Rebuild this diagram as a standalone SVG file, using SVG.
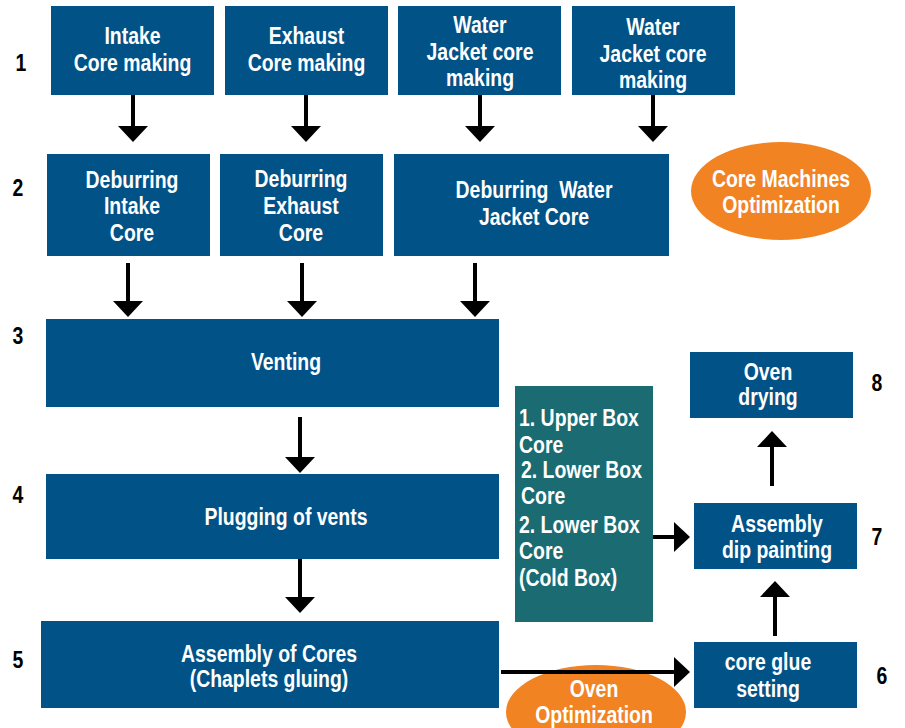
<svg xmlns="http://www.w3.org/2000/svg" width="905" height="728" viewBox="0 0 905 728">
<style>
.box{fill:#015287}
.teal{fill:#1b6b73}
.oval{fill:#f28322}
text{font-family:'Liberation Sans',Arial,sans-serif;font-weight:bold;font-size:24px}
.w{fill:#ffffff;text-anchor:middle}
.wl{fill:#ffffff}
.n{fill:#000000;text-anchor:middle}
.conn{stroke:#000;stroke-width:4;fill:none;marker-end:url(#ah)}
</style>
<defs>
<marker id="ah" viewBox="0 0 16 30" refX="0" refY="15" markerWidth="16" markerHeight="30" markerUnits="userSpaceOnUse" orient="auto">
<path d="M0,0 L16,15 L0,30 Z" fill="#000"/>
</marker>
</defs>
<rect width="905" height="728" fill="#fff"/>
<g id="labels">
<g transform="translate(21 0) scale(0.81 1)"><text class="n" x="0" y="71">1</text></g>
<g transform="translate(18 0) scale(0.81 1)"><text class="n" x="0" y="196">2</text></g>
<g transform="translate(18 0) scale(0.81 1)"><text class="n" x="0" y="344">3</text></g>
<g transform="translate(18 0) scale(0.81 1)"><text class="n" x="0" y="503">4</text></g>
<g transform="translate(18 0) scale(0.81 1)"><text class="n" x="0" y="668">5</text></g>
<g transform="translate(882 0) scale(0.81 1)"><text class="n" x="0" y="684">6</text></g>
<g transform="translate(877 0) scale(0.81 1)"><text class="n" x="0" y="545">7</text></g>
<g transform="translate(877 0) scale(0.81 1)"><text class="n" x="0" y="391">8</text></g>
</g>
<g id="n-intake"><rect class="box" x="51" y="6" width="163" height="89"/><g transform="translate(132.5 0) scale(0.81 1)"><text class="w" x="0" y="44">Intake</text><text class="w" x="0" y="71">Core making</text></g></g>
<g id="n-exhaust"><rect class="box" x="225" y="6" width="163" height="89"/><g transform="translate(306.5 0) scale(0.81 1)"><text class="w" x="0" y="44">Exhaust</text><text class="w" x="0" y="71">Core making</text></g></g>
<g id="n-water1"><rect class="box" x="398" y="6" width="163" height="89"/><g transform="translate(480 0) scale(0.81 1)"><text class="w" x="0" y="33">Water</text><text class="w" x="0" y="60">Jacket core</text><text class="w" x="0" y="86">making</text></g></g>
<g id="n-water2"><rect class="box" x="572" y="6" width="163" height="89"/><g transform="translate(653 0) scale(0.81 1)"><text class="w" x="0" y="35">Water</text><text class="w" x="0" y="62">Jacket core</text><text class="w" x="0" y="88">making</text></g></g>
<g id="n-deb-intake"><rect class="box" x="47" y="154" width="163" height="102"/><g transform="translate(132 0) scale(0.81 1)"><text class="w" x="0" y="188">Deburring</text><text class="w" x="0" y="214">Intake</text><text class="w" x="0" y="241">Core</text></g></g>
<g id="n-deb-exhaust"><rect class="box" x="220" y="154" width="163" height="102"/><g transform="translate(301 0) scale(0.81 1)"><text class="w" x="0" y="187">Deburring</text><text class="w" x="0" y="214">Exhaust</text><text class="w" x="0" y="241">Core</text></g></g>
<g id="n-deb-water"><rect class="box" x="394" y="154" width="275" height="102"/><g transform="translate(534 0) scale(0.81 1)"><text class="w" x="0" y="198" xml:space="preserve">Deburring  Water</text><text class="w" x="0" y="225">Jacket Core</text></g></g>
<g id="n-core-opt"><ellipse class="oval" cx="781" cy="191" rx="90" ry="49"/><g transform="translate(781 0) scale(0.81 1)"><text class="w" x="0" y="187">Core Machines</text><text class="w" x="0" y="213">Optimization</text></g></g>
<g id="n-venting"><rect class="box" x="46" y="319" width="453" height="88"/><g transform="translate(286 0) scale(0.81 1)"><text class="w" x="0" y="370">Venting</text></g></g>
<g id="n-plugging"><rect class="box" x="46" y="474" width="453" height="85"/><g transform="translate(286 0) scale(0.81 1)"><text class="w" x="0" y="525">Plugging of vents</text></g></g>
<g id="n-assembly"><rect class="box" x="41" y="621" width="458" height="87"/><g transform="translate(269 0) scale(0.81 1)"><text class="w" x="0" y="662">Assembly of Cores</text><text class="w" x="0" y="687">(Chaplets gluing)</text></g></g>
<g id="n-boxcores"><rect class="teal" x="515" y="386" width="138" height="236"/>
<g transform="translate(519 0) scale(0.81 1)"><text class="wl" x="0" y="426">1. Upper Box</text><text class="wl" x="0" y="453">Core</text>
<text class="wl" x="2.5" y="478">2. Lower Box</text><text class="wl" x="2.5" y="504">Core</text>
<text class="wl" x="0" y="533">2. Lower Box</text><text class="wl" x="0" y="559">Core</text>
<text class="wl" x="0" y="586">(Cold Box)</text></g></g>
<g id="n-oven-drying"><rect class="box" x="690" y="352" width="163" height="66"/><g transform="translate(768 0) scale(0.81 1)"><text class="w" x="0" y="380">Oven</text><text class="w" x="0" y="405">drying</text></g></g>
<g id="n-dip"><rect class="box" x="694" y="503" width="163" height="66"/><g transform="translate(777 0) scale(0.81 1)"><text class="w" x="0" y="532">Assembly</text><text class="w" x="0" y="558">dip painting</text></g></g>
<g id="n-glue"><rect class="box" x="694" y="642" width="163" height="66"/><g transform="translate(768 0) scale(0.81 1)"><text class="w" x="0" y="670">core glue</text><text class="w" x="0" y="697">setting</text></g></g>
<g id="n-oven-opt"><ellipse class="oval" cx="596" cy="712" rx="90" ry="47"/><g transform="translate(594 0) scale(0.81 1)"><text class="w" x="0" y="697">Oven</text><text class="w" x="0" y="723">Optimization</text></g></g>
<g id="connectors">
<path class="conn" d="M133,95 V126"/>
<path class="conn" d="M306,95 V126"/>
<path class="conn" d="M480,95 V126"/>
<path class="conn" d="M653,95 V126"/>
<path class="conn" d="M128,263 V301"/>
<path class="conn" d="M302,263 V301"/>
<path class="conn" d="M475,263 V301"/>
<path class="conn" d="M300,417 V457"/>
<path class="conn" d="M300,559 V597"/>
<path class="conn" d="M501,672 H674"/>
<path class="conn" d="M653,537 H674"/>
<path class="conn" d="M775,636 V597"/>
<path class="conn" d="M772,486 V447"/>
</g>
</svg>
